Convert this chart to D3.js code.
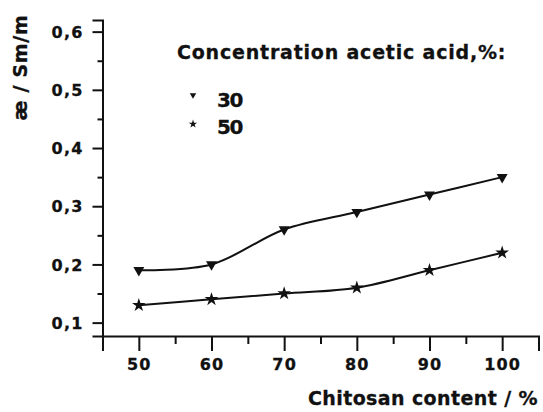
<!DOCTYPE html>
<html>
<head>
<meta charset="utf-8">
<script src="https://cdn.jsdelivr.net/npm/d3@7"></script>
<style>
  html, body { margin: 0; padding: 0; background: #fff; }
  svg { display: block; }
  text { font-family: "DejaVu Sans", sans-serif; font-weight: bold; fill: #111; stroke: #111; stroke-width: 0.3px; }
</style>
</head>
<body>
<svg id="chart" width="543" height="412"></svg>
<script>
// Chitosan content (%) on the x axis
const chitosan = [50, 60, 70, 80, 90, 100];
// Specific conductivity (S/m) for each acetic acid concentration
const acid30 = [0.19, 0.20, 0.26, 0.29, 0.32, 0.35];
const acid50 = [0.13, 0.14, 0.15, 0.16, 0.19, 0.22];
const seriesNames = ["30", "50"];
const xTicks = [50, 60, 70, 80, 90, 100];
const xMinorTicks = [45, 55, 65, 75, 85, 95, 105];
const yTicks = [0.1, 0.2, 0.3, 0.4, 0.5, 0.6];
const yMinorTicks = [0.15, 0.25, 0.35, 0.45, 0.55];
const legendTitle = "Concentration acetic acid,%:";
const xTitle = "Chitosan content / %";
const yTitle = "æ / Sm/m";

const svg = d3.select("#chart");

const x = d3.scaleLinear().domain([45, 105]).range([102.5, 538.5]);
const y = d3.scaleLinear().domain([0.077, 0.62]).range([336, 20]);

const fmt = d => d3.format(".1f")(d).replace(".", ",");

// y axis: major and minor ticks pointing outward
const yAxis = svg.append("g").attr("transform", `translate(${x(45)},0)`)
  .call(d3.axisLeft(y).tickValues(yTicks).tickFormat(fmt).tickSize(10).tickPadding(9));
svg.append("g").attr("transform", `translate(${x(45)},0)`)
  .call(d3.axisLeft(y).tickValues(yMinorTicks).tickFormat("").tickSize(5))
  .select(".domain").remove();

// x axis
svg.append("g").attr("transform", `translate(0,${y(0.077)})`)
  .call(d3.axisBottom(x).tickValues(xTicks).tickFormat(d3.format("d")).tickSize(15).tickPadding(8));
svg.append("g").attr("transform", `translate(0,${y(0.077)})`)
  .call(d3.axisBottom(x).tickValues(xMinorTicks).tickFormat("").tickSize(8))
  .select(".domain").remove();

svg.selectAll(".domain").attr("stroke", "#111").attr("stroke-width", 2);
svg.selectAll(".tick line").attr("stroke", "#111").attr("stroke-width", 2);
svg.selectAll(".tick text").attr("font-size", 16).attr("letter-spacing", 1.2)
  .style("font-family", "DejaVu Sans").style("font-weight", "bold").attr("fill", "#111");
yAxis.selectAll(".tick text").attr("dy", "0.36em");

// axis titles
svg.append("text")
  .attr("x", 538).attr("y", 405)
  .attr("text-anchor", "end")
  .attr("font-size", 19).attr("letter-spacing", 0.4)
  .text(xTitle);

svg.append("text")
  .attr("transform", "translate(27,67.5) rotate(-90)")
  .attr("text-anchor", "middle")
  .attr("font-size", 19).attr("letter-spacing", 0.7)
  .text(yTitle);

// smooth curves through the measured points
const line = d3.line().curve(d3.curveCatmullRom.alpha(0.5))
  .x((d, i) => x(chitosan[i])).y(d => y(d));
[acid30, acid50].forEach(vals => {
  svg.append("path").datum(vals)
    .attr("d", line)
    .attr("fill", "none").attr("stroke", "#111").attr("stroke-width", 2);
});

// markers
const tri = d3.symbol().type(d3.symbolTriangle);
const star = d3.symbol().type(d3.symbolStar);

svg.append("g").selectAll("path").data(acid30).join("path")
  .attr("d", tri.size(52)())
  .attr("transform", (d, i) => `translate(${x(chitosan[i])},${y(d)}) rotate(180)`)
  .attr("fill", "#111");

svg.append("g").selectAll("path").data(acid50).join("path")
  .attr("d", star.size(58)())
  .attr("transform", (d, i) => `translate(${x(chitosan[i])},${y(d)})`)
  .attr("fill", "#111");

// legend
svg.append("text")
  .attr("x", 177).attr("y", 59)
  .attr("font-size", 19).attr("letter-spacing", 0.8)
  .text(legendTitle);

const legendRows = [
  { name: seriesNames[0], sym: tri.size(18)(), rot: 180, my: 95, ty: 107 },
  { name: seriesNames[1], sym: star.size(22)(), rot: 0, my: 124, ty: 134 }
];
legendRows.forEach(r => {
  svg.append("path").attr("d", r.sym)
    .attr("transform", `translate(193,${r.my}) rotate(${r.rot})`)
    .attr("fill", "#111");
  svg.append("text")
    .attr("x", 217).attr("y", r.ty)
    .attr("font-size", 20).attr("letter-spacing", -1.5)
    .text(r.name);
});
</script>
</body>
</html>
